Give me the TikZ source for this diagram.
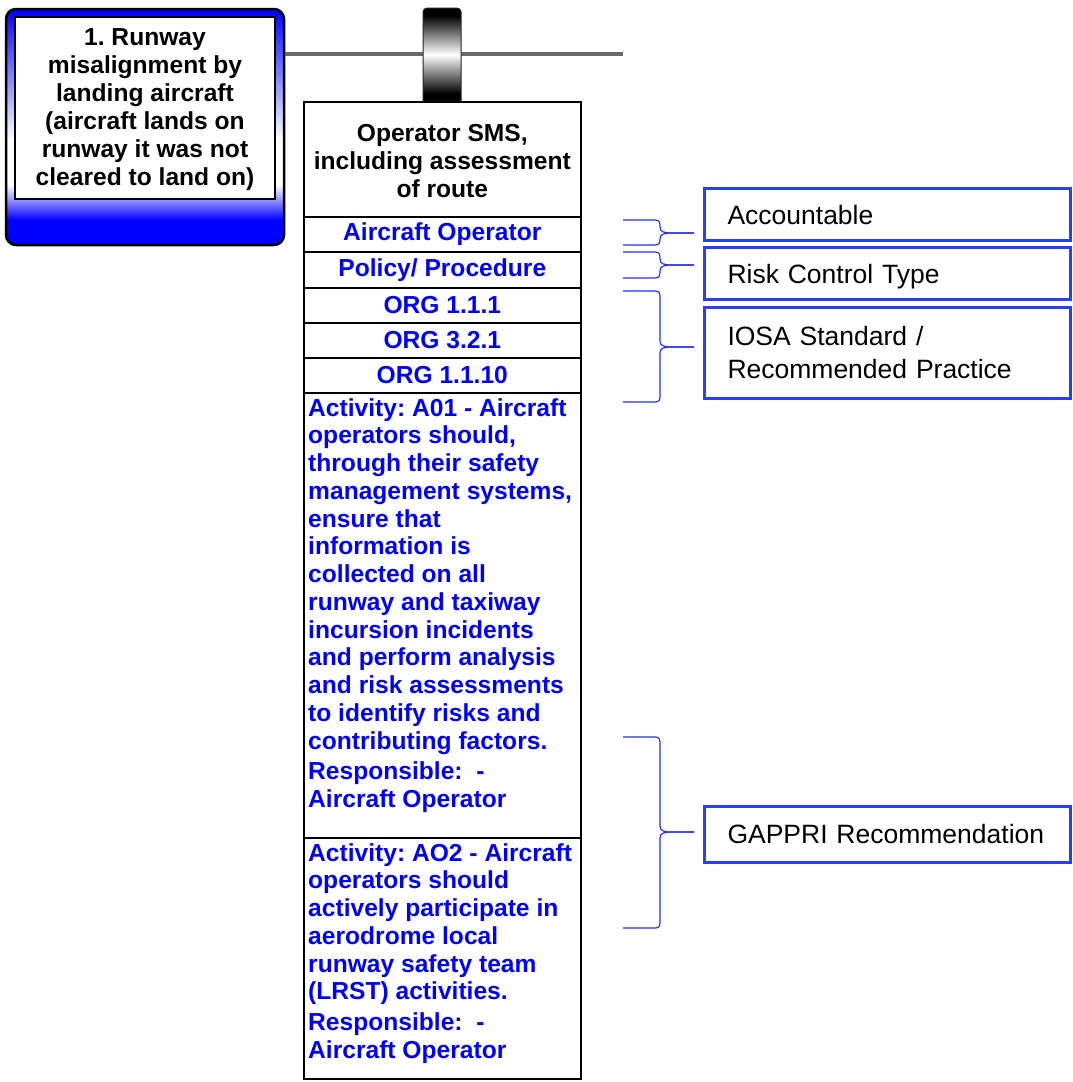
\documentclass[tikz,border=0pt]{standalone}
\usepackage{fontspec}
\setmainfont{Liberation Sans}
\frenchspacing
\usetikzlibrary{calc}
\definecolor{pureblue}{RGB}{0,0,255}
\definecolor{labblue}{RGB}{40,64,240}
\definecolor{brcblue}{RGB}{40,50,240}
\definecolor{linegray}{RGB}{105,105,105}
\pgfdeclareverticalshading{tieshade}{100bp}{color(0bp)=(black); color(25bp)=(black); color(29bp)=(black); color(50bp)=(white); color(71bp)=(black); color(75bp)=(black); color(100bp)=(black)}
\newcommand{\mybrace}[3]{%
  \draw[brc] (623,#1) -- (655,#1) .. controls (659,#1) and (660,#1+2) .. (660,#1+6) -- (660,#2-6) .. controls (660,#2-1) and (664,#2) .. (672,#2) -- (694,#2);
  \draw[brc] (694,#2) -- (672,#2) .. controls (664,#2) and (660,#2+1) .. (660,#2+6) -- (660,#3-6) .. controls (660,#3-2) and (659,#3) .. (655,#3) -- (623,#3);
}
\tikzset{
  colbox/.style={draw=black, line width=1.6pt, fill=white, minimum width=277, inner sep=0pt, anchor=north west, align=center},
  blt/.style={text=pureblue, font=\bfseries\fontsize{24.6}{27.75}\selectfont},
  blk/.style={text=black, font=\bfseries\fontsize{24.6}{28}\selectfont},
  labbox/.style={draw=labblue, line width=3pt, anchor=north west, minimum width=366, text width=320, inner xsep=23, inner ysep=0, align=left, font=\fontsize{26.5}{33}\selectfont},
  lowtext/.style={text height=25, text depth=6},
  brc/.style={draw=brcblue, line width=1.2pt},
}
\begin{document}
\begin{tikzpicture}[x=1pt,y=-1pt]
\useasboundingbox (0,0) rectangle (1072,1082);
\fill[white] (0,0) rectangle (1072,1082);

\coordinate (lineend) at (623,54);
% event box background
\begin{scope}
  \clip[rounded corners=10] (6,9) rectangle (284,245);
  \shade[top color=pureblue, bottom color=white] (0,9) rectangle (300,140);
  \fill[white] (0,140) rectangle (300,185);
  \shade[top color=white, bottom color=pureblue] (0,185) rectangle (300,220);
  \fill[pureblue] (0,220) rectangle (300,250);
\end{scope}
\node[draw=black, line width=2.5pt, rounded corners=10, minimum width=278, minimum height=236, inner sep=0] (evbox) at (145,127) {};
\node[draw=black, line width=2pt, fill=white, minimum width=260, minimum height=182, inner sep=0, blk, align=center] (event) at (145,108)
  {\rule{0pt}{20pt}1. Runway\\misalignment by\\landing aircraft\\(aircraft lands on\\runway it was not\\cleared to land on)};
\draw[linegray, line width=3.5pt] (evbox.east |- lineend) -- (lineend);

% tie
\shade[shading=tieshade, draw=black!85, line width=1pt]
  (423,101) [rounded corners=4] -- (423,8) -- (461,8) [sharp corners] -- (461,101) -- cycle;

% column
\node[colbox, minimum height=115, blk] (hdr) at (303,101) {\rule{0pt}{20pt}Operator SMS,\\including assessment\\of route};
\node[colbox, minimum height=35, blt] (acc) at (303,216) {Aircraft Operator};
\node[colbox, minimum height=36, blt] (pol) at (303,251) {Policy/ Procedure};
\node[colbox, minimum height=35, blt] (org1) at (303,287) {ORG 1.1.1};
\node[colbox, minimum height=35, blt] (org2) at (303,322) {ORG 3.2.1};
\node[colbox, minimum height=35, blt] (org3) at (303,357) {ORG 1.1.10};
\node[colbox, minimum height=445] (act1) at (303,392) {};
\node[colbox, minimum height=241] (act2) at (303,837) {};
\node[blt, anchor=north west, align=left, inner sep=0] (act1t) at ($(act1.north west)+(5,6)$)
  {Activity: A01 - Aircraft\\operators should,\\through their safety\\management systems,\\ensure that\\information is\\collected on all\\runway and taxiway\\incursion incidents\\and perform analysis\\and risk assessments\\to identify risks and\\contributing factors.\\[3pt]Responsible:\ \ -\\Aircraft Operator};
\node[blt, anchor=north west, align=left, inner sep=0] (act2t) at ($(act2.north west)+(5,6)$)
  {Activity: AO2 - Aircraft\\operators should\\actively participate in\\aerodrome local\\runway safety team\\(LRST) activities.\\[3pt]Responsible:\ \ -\\Aircraft Operator};

% legend boxes
\node[labbox, lowtext, minimum height=52] (accL) at (703,187) {Accountable};
\node[labbox, lowtext, minimum height=52] (rctL) at (703,246) {Risk Control Type};
\node[labbox, minimum height=91] (iosaL) at (703,306) {IOSA Standard /\\Recommended Practice};
\node[labbox, minimum height=56] (gapL) at (703,805) {GAPPRI Recommendation};

% braces
\mybrace{220}{233}{245}
\mybrace{252}{265}{278}
\mybrace{291}{347}{402}
\mybrace{737}{832}{928}
\end{tikzpicture}
\end{document}
